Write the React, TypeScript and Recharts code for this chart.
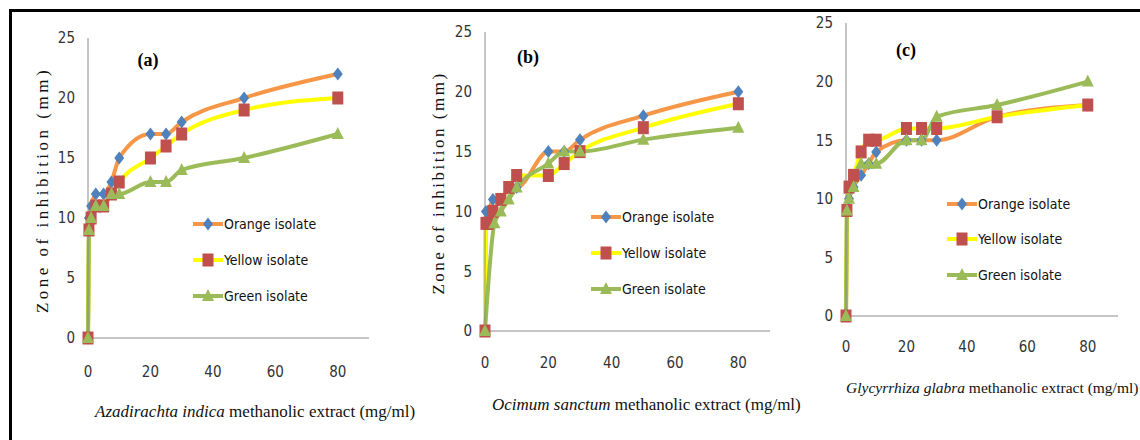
import React from "react";
import { LineChart, Line, XAxis, YAxis } from "recharts";

// concentration points (mg/ml) shared by most series
const CONC = [0, 0.3, 1, 2.5, 5, 7.5, 10, 20, 25, 30, 50, 80];
const CONC_B_GREEN = [0, 3, 5, 7.5, 10, 20, 25, 30, 50, 80];

const A_ORANGE = [0, 10, 11, 12, 12, 13, 15, 17, 17, 18, 20, 22];
const A_YELLOW = [0, 9, 10, 11, 11, 12, 13, 15, 16, 17, 19, 20];
const A_GREEN = [0, 9, 10, 11, 11, 12, 12, 13, 13, 14, 15, 17];

const B_ORANGE = [0, 10, 10, 11, 11, 12, 12, 15, 15, 16, 18, 20];
const B_YELLOW = [0, 9, 9, 10, 11, 12, 13, 13, 14, 15, 17, 19];
const B_GREEN = [0, 9, 10, 11, 12, 14, 15, 15, 16, 17];

const C_ORANGE = [0, 9, 10, 11, 12, 13, 14, 15, 15, 15, 17, 18];
const C_YELLOW = [0, 9, 11, 12, 14, 15, 15, 16, 16, 16, 17, 18];
const C_GREEN = [0, 9, 10, 11, 13, 13, 13, 15, 15, 17, 18, 20];

const X_TICKS = [0, 20, 40, 60, 80];
const Y_TICKS = [0, 5, 10, 15, 20, 25];
const SERIES_NAMES = ["Orange isolate", "Yellow isolate", "Green isolate"];

const LINE_COLS = ["#F79646", "#FFFF00", "#9BBB59"];
const MARK_COLS = ["#4F81BD", "#C0504D", "#9BBB59"];

const TICK_FONT = "'Liberation Sans Narrow', 'DejaVu Sans Condensed', Arial, sans-serif";
const SERIF = "'Liberation Serif', 'Times New Roman', serif";

const pts = (xs: number[], ys: number[]) => xs.map((x, i) => ({ x, y: ys[i] }));

function marker(kind: number, cx: number, cy: number, key: string) {
  const fill = MARK_COLS[kind];
  if (kind === 0)
    return <path key={key} d={`M${cx},${cy - 6.5}L${cx + 5},${cy}L${cx},${cy + 6.5}L${cx - 5},${cy}Z`} fill={fill} />;
  if (kind === 1) return <rect key={key} x={cx - 5.5} y={cy - 6.5} width={11} height={13} fill={fill} />;
  return <path key={key} d={`M${cx},${cy - 7}L${cx + 6},${cy + 5}L${cx - 6},${cy + 5}Z`} fill={fill} />;
}

const dotFor = (kind: number) => (p: any) => marker(kind, p.cx, p.cy, `m${kind}-${p.index}`);

// legend drawn beside the chart so it does not shrink the plot area
function LegendBox({ left, top, gap }: { left: number; top: number; gap: number }) {
  return (
    <div style={{ position: "absolute", left, top, whiteSpace: "nowrap" }}>
      {SERIES_NAMES.map((n, i) => (
        <div key={n} style={{ display: "flex", alignItems: "center", height: gap }}>
          <svg width={30} height={16} style={{ flex: "none" }}>
            <line x1={0} y1={8} x2={30} y2={8} stroke={LINE_COLS[i]} strokeWidth={4} />
            {marker(i, 15, 8, "l" + i)}
          </svg>
          <span style={{ fontFamily: TICK_FONT, fontSize: 14, color: "#111", marginLeft: 1 }}>{n}</span>
        </div>
      ))}
    </div>
  );
}

interface PanelProps {
  left: number;
  width: number;
  margin: { top: number; right: number; bottom: number; left: number };
  series: { x: number; y: number }[][];
  tag: string;
  tagPos: [number, number];
  legendPos: [number, number, number];
  xTickMargin: number;
}

function Panel({ left, width, margin, series, tag, tagPos, legendPos, xTickMargin }: PanelProps) {
  return (
    <div style={{ position: "absolute", left, top: 0 }}>
      <LineChart width={width} height={440} margin={margin}>
        <XAxis
          type="number"
          dataKey="x"
          domain={[0, 90]}
          ticks={X_TICKS}
          allowDuplicatedCategory={false}
          height={30}
          axisLine={{ stroke: "#8C8C8C" }}
          tickLine={false}
          tickMargin={xTickMargin}
          tick={{ fontFamily: TICK_FONT, fontSize: 15, fill: "#333" }}
        />
        <YAxis
          type="number"
          domain={[0, 25]}
          ticks={Y_TICKS}
          width={30}
          axisLine={{ stroke: "#8C8C8C" }}
          tickLine={false}
          tickMargin={7}
          tick={{ fontFamily: TICK_FONT, fontSize: 15, fill: "#333" }}
        />
        {series.map((d, i) => (
          <Line
            key={i}
            data={d}
            dataKey="y"
            name={SERIES_NAMES[i]}
            type="monotone"
            stroke={LINE_COLS[i]}
            strokeWidth={4}
            dot={dotFor(i)}
            activeDot={false}
            isAnimationActive={false}
          />
        ))}
      </LineChart>
      <LegendBox left={legendPos[0]} top={legendPos[1]} gap={legendPos[2]} />
      <div
        style={{
          position: "absolute",
          left: tagPos[0],
          top: tagPos[1],
          transform: "translate(-50%, -50%)",
          fontFamily: SERIF,
          fontWeight: 700,
          fontSize: 18,
        }}
      >
        {tag}
      </div>
    </div>
  );
}

function YTitle({ x, y, spacing }: { x: number; y: number; spacing: number }) {
  return (
    <div
      style={{
        position: "absolute",
        left: x,
        top: y,
        transform: "translate(-50%, -50%) rotate(-90deg)",
        whiteSpace: "nowrap",
        fontFamily: SERIF,
        fontSize: 17,
        letterSpacing: spacing,
        color: "#111",
      }}
    >
      Zone of inhibition (mm)
    </div>
  );
}

function XTitle({ x, y, species, size }: { x: number; y: number; species: string; size: number }) {
  return (
    <div
      style={{
        position: "absolute",
        left: x,
        top: y,
        transform: "translateY(-50%)",
        whiteSpace: "nowrap",
        fontFamily: SERIF,
        fontSize: size,
        color: "#111",
      }}
    >
      <i>{species}</i> methanolic extract (mg/ml)
    </div>
  );
}

export default function App() {
  return (
    <div
      style={{
        position: "fixed",
        left: 0,
        top: 0,
        width: 1140,
        height: 440,
        overflow: "hidden",
        background: "#fff",
      }}
    >
      <div
        style={{
          position: "absolute",
          left: 9,
          top: 9,
          width: 1300,
          height: 600,
          border: "3px solid #000",
        }}
      />
      <Panel
        left={0}
        width={380}
        margin={{ top: 38, right: 11, bottom: 72, left: 58 }}
        series={[pts(CONC, A_ORANGE), pts(CONC, A_YELLOW), pts(CONC, A_GREEN)]}
        tag="(a)"
        tagPos={[148, 60]}
        legendPos={[193, 206, 36]}
        xTickMargin={22}
      />
      <Panel
        left={380}
        width={400}
        margin={{ top: 32, right: 10, bottom: 79, left: 75 }}
        series={[pts(CONC, B_ORANGE), pts(CONC, B_YELLOW), pts(CONC_B_GREEN, B_GREEN)]}
        tag="(b)"
        tagPos={[148, 57]}
        legendPos={[211, 199, 36]}
        xTickMargin={20}
      />
      <Panel
        left={760}
        width={380}
        margin={{ top: 23, right: 22, bottom: 94, left: 56 }}
        series={[pts(CONC, C_ORANGE), pts(CONC, C_YELLOW), pts(CONC, C_GREEN)]}
        tag="(c)"
        tagPos={[146, 50]}
        legendPos={[187, 186, 35.5]}
        xTickMargin={19}
      />
      <YTitle x={43} y={190} spacing={3.5} />
      <YTitle x={439} y={183} spacing={2.5} />
      <XTitle x={95} y={412} size={17} species="Azadirachta indica" />
      <XTitle x={492} y={405} size={17} species="Ocimum sanctum" />
      <XTitle x={846} y={388} size={15.5} species="Glycyrrhiza glabra" />
    </div>
  );
}
